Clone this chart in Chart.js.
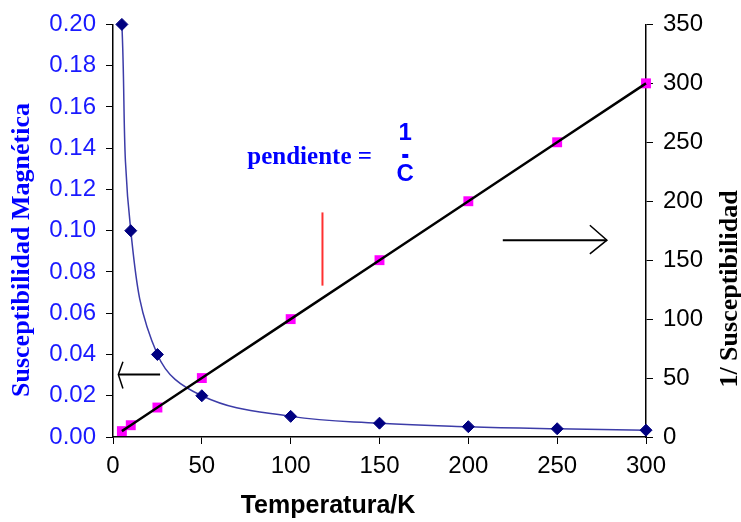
<!DOCTYPE html>
<html>
<head>
<meta charset="utf-8">
<script src="https://cdn.jsdelivr.net/npm/chart.js@4.4.1/dist/chart.umd.min.js"></script>
<style>
  html, body { margin: 0; padding: 0; background: #fff; }
  #wrap { width: 741px; height: 522px; }
</style>
</head>
<body>
<div id="wrap"><canvas id="myChart" width="741" height="522"></canvas></div>
<script>
// temperature (K)
const temps = [5, 10, 25, 50, 100, 150, 200, 250, 300];
// magnetic susceptibility (left axis)
const chi = [0.2, 0.1, 0.04, 0.02, 0.01, 0.0067, 0.005, 0.004, 0.0033];
// inverse susceptibility (right axis)
const invChi = [5, 10, 25, 50, 100, 150, 200, 250, 300];

const xTicks = [0, 50, 100, 150, 200, 250, 300];
const leftMax = 0.2;
const rightMax = 350;

const sans = "'Liberation Sans', Arial, sans-serif";
const serif = "'Liberation Serif', 'Times New Roman', serif";

function pts(xs, ys) {
  return xs.map((x, i) => ({ x: x, y: ys[i] }));
}

// extra drawings: titles, arrows, slope label
const extras = {
  id: "extras",
  afterDraw(chart) {
    let ctx = chart.ctx;
    let xs = chart.scales.x;
    let yr = chart.scales.y2;
    let px = (v) => xs.getPixelForValue(v);
    let py = (v) => yr.getPixelForValue(v);
    ctx.save();

    // axis titles
    ctx.textAlign = "center";
    ctx.textBaseline = "middle";
    ctx.fillStyle = "#0000ff";
    ctx.font = "bold 26px " + serif;
    ctx.save();
    ctx.translate(22, 250);
    ctx.rotate(-Math.PI / 2);
    ctx.fillText("Susceptibilidad Magnética", 0, 0);
    ctx.restore();

    ctx.fillStyle = "#000";
    ctx.save();
    ctx.translate(730, 289);
    ctx.rotate(-Math.PI / 2);
    ctx.fillText("1/ Susceptibilidad", 0, 0);
    ctx.restore();

    ctx.font = "bold 25px " + sans;
    ctx.fillText("Temperatura/K", 328, 506);

    // slope label
    ctx.fillStyle = "#0000ff";
    ctx.textAlign = "left";
    ctx.textBaseline = "alphabetic";
    ctx.font = "bold 25px " + serif;
    ctx.fillText("pendiente =", px(75.6), py(232));
    ctx.textAlign = "center";
    ctx.font = "bold 24px " + sans;
    ctx.fillText("1", px(164.5), py(252));
    ctx.fillText("C", px(164.5), py(217));
    ctx.fillRect(px(164.5) - 3, py(238.4) - 2, 6, 4);

    // red marker line
    ctx.strokeStyle = "#ff3030";
    ctx.lineWidth = 2;
    ctx.beginPath();
    ctx.moveTo(px(117.9), py(190.5));
    ctx.lineTo(px(117.9), py(128.4));
    ctx.stroke();

    // arrows
    ctx.strokeStyle = "#000";
    ctx.lineWidth = 2;
    ctx.beginPath();
    ctx.moveTo(px(3), py(53));
    ctx.lineTo(px(26.5), py(53));
    ctx.moveTo(px(219.4), py(167));
    ctx.lineTo(px(278), py(167));
    ctx.stroke();
    ctx.lineWidth = 1.5;
    ctx.beginPath();
    ctx.moveTo(px(5.6), py(63.8));
    ctx.lineTo(px(3), py(53));
    ctx.lineTo(px(5.6), py(41.1));
    ctx.moveTo(px(268.4), py(179.6));
    ctx.lineTo(px(278), py(167));
    ctx.lineTo(px(268.4), py(155.3));
    ctx.stroke();
    ctx.restore();
  },
};

function fixWidth(w) {
  return (scale) => { scale.width = w; };
}

let ctx = document.getElementById("myChart").getContext("2d");
let myChart = new Chart(ctx, {
  type: "scatter",
  data: {
    datasets: [
      {
        label: "1/chi line",
        data: pts(temps, invChi),
        yAxisID: "y2",
        showLine: true,
        borderColor: "#000",
        borderWidth: 2.5,
        pointRadius: 0,
        clip: false,
        order: 0,
      },
      {
        label: "1/chi",
        data: pts(temps, invChi),
        yAxisID: "y2",
        showLine: false,
        pointStyle: "rect",
        pointRadius: 7,
        backgroundColor: "#ff00ff",
        borderColor: "#ff00ff",
        borderWidth: 0,
        clip: false,
        order: 1,
      },
      {
        label: "chi",
        data: pts(temps, chi),
        yAxisID: "y",
        showLine: true,
        tension: 0.4,
        borderColor: "#3c3ca8",
        borderWidth: 1.5,
        pointStyle: "rectRot",
        pointRadius: 6,
        backgroundColor: "#000080",
        pointBorderColor: "#000080",
        pointBorderWidth: 1,
        clip: false,
        order: 2,
      },
    ],
  },
  options: {
    responsive: false,
    animation: false,
    layout: { padding: { top: 20, left: 0, right: 0, bottom: 0 } },
    plugins: {
      legend: { display: false },
      tooltip: { enabled: false },
    },
    scales: {
      x: {
        type: "linear",
        min: 0,
        max: 300,
        afterFit: (s) => { s.height = 85; },
        afterBuildTicks: (s) => { s.ticks = xTicks.map((v) => ({ value: v })); },
        grid: { display: true, drawOnChartArea: false, drawTicks: true, tickLength: 7, color: "#000" },
        border: { display: true, color: "#000", width: 1.5 },
        ticks: { color: "#000", padding: 8, font: { family: sans, size: 24 }, maxRotation: 0 },
      },
      y: {
        position: "left",
        min: 0,
        max: leftMax,
        afterFit: fixWidth(113),
        grid: { display: true, drawOnChartArea: false, drawTicks: true, tickLength: 7, color: "#000" },
        border: { display: true, color: "#000", width: 1.5 },
        ticks: {
          stepSize: 0.02,
          color: "#1a1aff",
          padding: 10,
          font: { family: sans, size: 24 },
          callback: (v) => v.toFixed(2),
        },
      },
      y2: {
        position: "right",
        min: 0,
        max: rightMax,
        afterFit: fixWidth(95),
        grid: { display: true, drawOnChartArea: false, drawTicks: true, tickLength: 7, color: "#000" },
        border: { display: true, color: "#000", width: 1.5 },
        ticks: { stepSize: 50, color: "#000", padding: 10, font: { family: sans, size: 24 } },
      },
    },
  },
  plugins: [extras],
});
</script>
</body>
</html>
